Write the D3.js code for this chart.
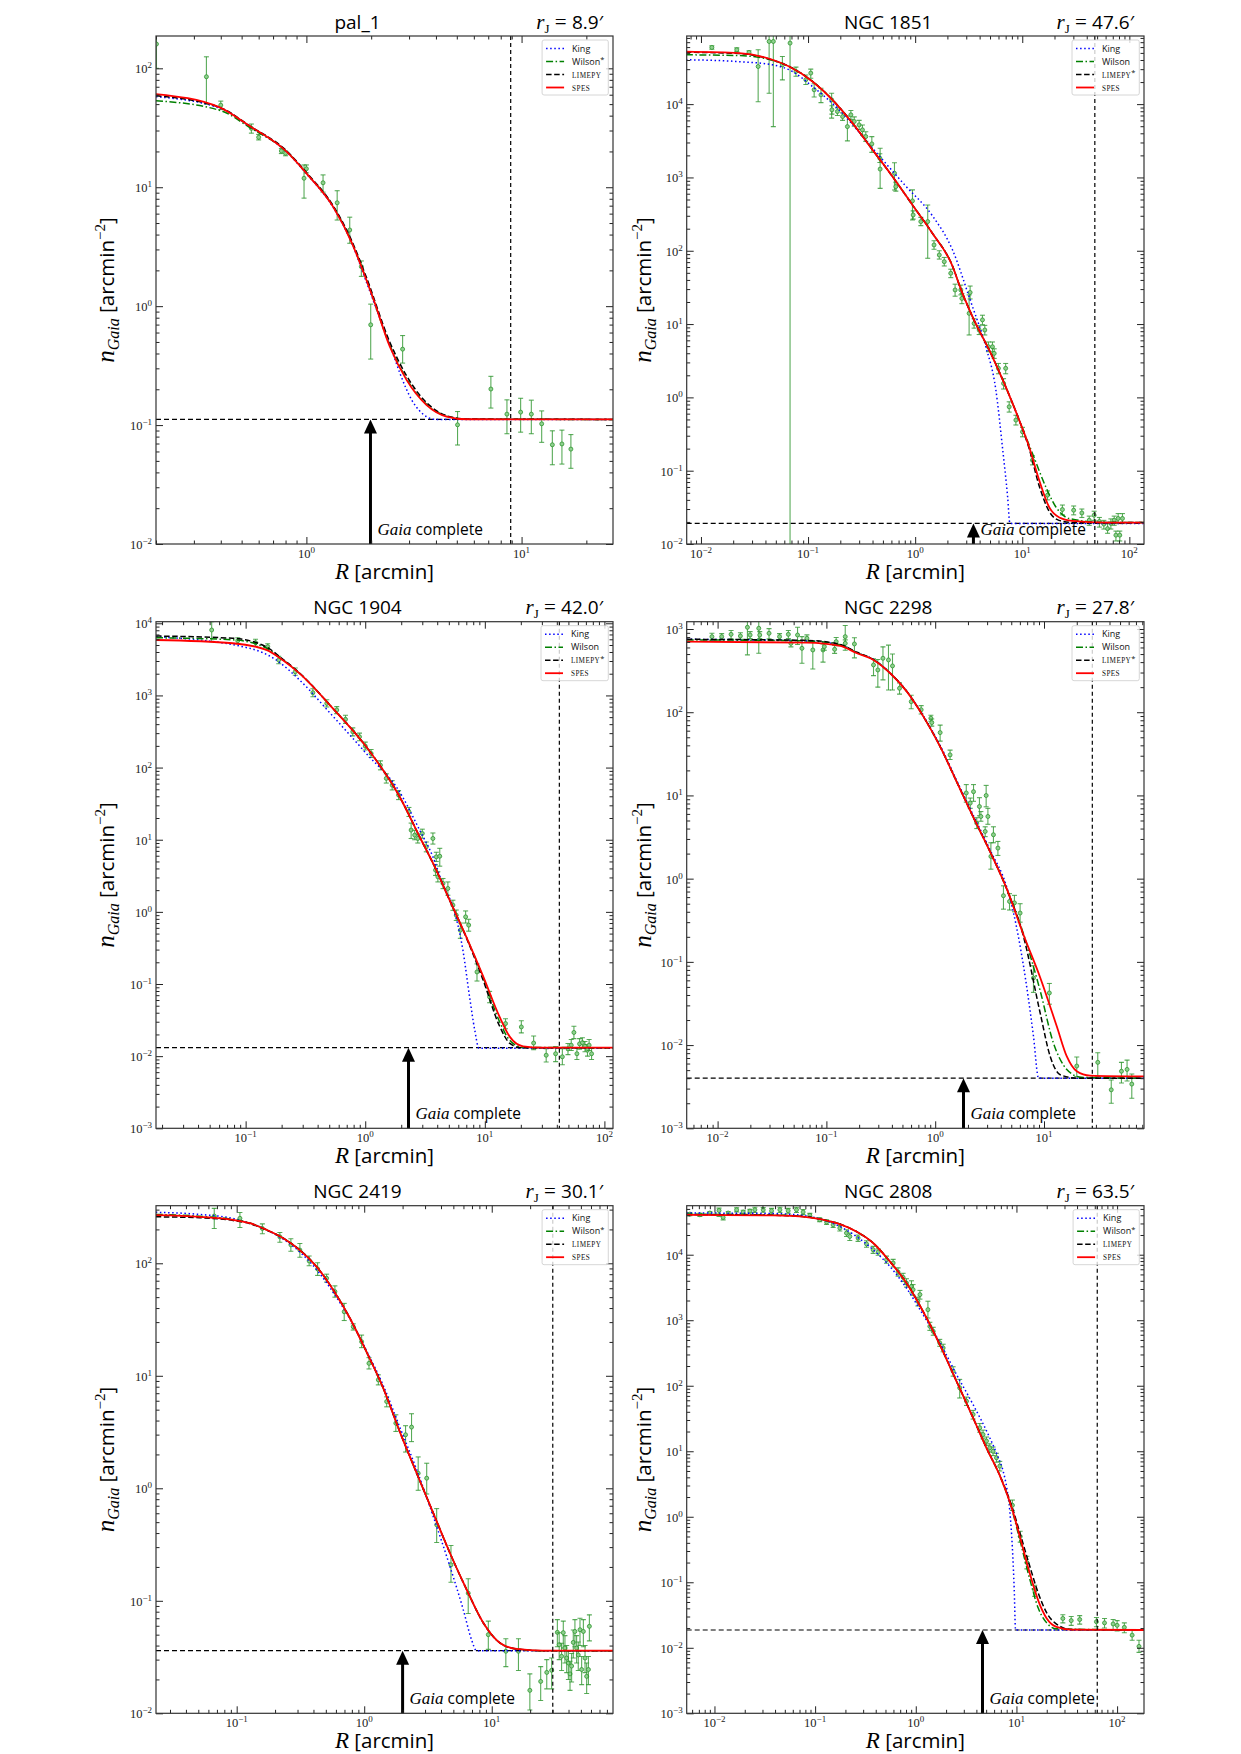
<!DOCTYPE html>
<html>
<head>
<meta charset="utf-8">
<script src="https://cdn.jsdelivr.net/npm/d3@7/dist/d3.min.js"></script>
<style>
  body { margin: 0; background: #fff; }
</style>
</head>
<body>
<svg id="fig" width="1241" height="1754"></svg>
<script>
/* ---------- Data ---------- */
// per cluster: name, Jacobi radius [arcmin], background level, Gaia completeness radius
let clusterNames = ["pal_1", "NGC 1851", "NGC 1904", "NGC 2298", "NGC 2419", "NGC 2808"];
let tidalRadii = ["8.9", "47.6", "42.0", "27.8", "30.1", "63.5"];
let backgrounds = [0.1116, 0.0191, 0.0131, 0.0040, 0.036, 0.0187];
let completeRadii = [1.985, 3.5, 2.3, 1.82, 2.0, 4.6];
let legendLabels = [
    ["King", "Wilson*", "LIMEPY", "SPES"],
    ["King", "Wilson", "LIMEPY*", "SPES"],
    ["King", "Wilson", "LIMEPY*", "SPES"],
    ["King", "Wilson", "LIMEPY*", "SPES"],
    ["King", "Wilson*", "LIMEPY", "SPES"],
    ["King", "Wilson*", "LIMEPY", "SPES"]
];
// axis ranges
let xDomains = [[0.2, 26.6], [0.00736, 137], [0.0178, 118], [0.0052, 83], [0.0233, 89.3], [0.0053, 185]];
let yDomains = [[0.01, 187], [0.01, 85000], [0.001, 10520], [0.001, 1224], [0.01, 325], [0.001, 56000]];

// model curves [R, n]
let pal1King = [[0.2,57.7],[0.4,46],[0.55,32],[0.81,19.8],[1.0,13],[1.33,6.8],[1.63,3.35],[1.9,1.6],[2.2,0.78],[2.5,0.42],[2.72,0.273],[3.09,0.162],[3.61,0.118],[3.97,0.1116],[26.6,0.1116]];
let pal1Wilson = [[0.2,53.5],[0.4,44],[0.55,31.5],[0.81,19.9],[1.0,13.1],[1.33,6.9],[1.63,3.4],[1.9,1.68],[2.44,0.47],[2.92,0.245],[3.61,0.15],[4.48,0.119],[5.55,0.112],[26.6,0.1116]];
let pal1Limepy = [[0.2,58.9],[0.4,46.5],[0.55,32.5],[0.81,20.2],[1.0,13.3],[1.33,7.0],[1.63,3.5],[1.9,1.75],[2.44,0.5],[2.92,0.26],[3.61,0.155],[4.48,0.12],[5.55,0.1125],[26.6,0.1116]];
let pal1Spes = [[0.2,60.8],[0.395,47],[0.545,32.7],[0.807,20],[1.0,13.1],[1.33,6.87],[1.63,3.38],[1.9,1.66],[2.04,1.17],[2.44,0.458],[2.92,0.24],[3.61,0.148],[4.48,0.118],[5.55,0.112],[26.6,0.1116]];

let n1851King = [[0.00723,40300],[0.0227,38000],[0.0465,34400],[0.0715,27900],[0.11,17400],[0.195,8360],[0.40,2500],[0.819,760],[1.45,300],[2.23,103],[3.19,23.6],[3.43,17.3],[4.57,4.9],[5.67,1.26],[6.53,0.21],[7.3,0.044],[7.67,0.0191],[137,0.0191]];
let n1851Wilson = [[0.00723,47100],[0.0227,46000],[0.0465,39500],[0.0666,32600],[0.11,20400],[0.169,11450],[0.26,5500],[0.40,2380],[0.614,1030],[0.943,422],[1.45,173],[2.23,62],[2.67,30],[3.43,12.6],[5.27,3.58],[7.0,1.4],[9.36,0.49],[12.45,0.172],[16.6,0.060],[20.6,0.032],[27.4,0.0223],[60,0.0196],[137,0.0196]];
let n1851Limepy = [[0.00723,51000],[0.0227,49000],[0.0465,40000],[0.0666,32600],[0.11,20400],[0.169,11450],[0.26,5500],[0.40,2380],[0.614,1030],[0.943,422],[1.45,173],[2.23,62],[2.67,30],[3.43,12.6],[5.27,3.58],[7.0,1.4],[9.36,0.49],[11.6,0.2],[14.4,0.062],[17.8,0.028],[22,0.021],[30,0.0196],[137,0.0196]];
let n1851Spes = [[0.00723,52000],[0.0227,49700],[0.0465,40300],[0.0666,32600],[0.11,20400],[0.169,11450],[0.26,5500],[0.40,2380],[0.614,1030],[0.943,422],[1.45,173],[2.23,62],[2.67,30],[3.43,12.6],[5.27,3.58],[7.0,1.4],[9.36,0.49],[11.6,0.211],[14.4,0.074],[17.8,0.032],[22.2,0.023],[29.3,0.0207],[60.4,0.0196],[137,0.0196]];

let n1904King = [[0.0178,6520],[0.108,4500],[0.18,3100],[0.282,1640],[0.536,516],[1.02,157],[1.94,46],[2.85,13.6],[3.68,5.8],[4.5,2.3],[5.41,1.17],[6.56,0.294],[7.46,0.066],[8.24,0.0229],[8.93,0.0129],[118,0.0129]];
let n1904Wilson = [[0.0178,6300],[0.078,5900],[0.149,4550],[0.204,3150],[0.282,2030],[0.536,662],[1.02,194],[1.94,39.4],[2.85,11.0],[3.93,3.79],[5.08,1.45],[7.0,0.45],[9.65,0.125],[13.3,0.03],[16.2,0.0165],[21,0.0132],[118,0.0131]];
let n1904Limepy = [[0.0178,6660],[0.078,6200],[0.149,4700],[0.204,3200],[0.282,2050],[0.536,662],[1.02,194],[1.94,39.4],[2.85,11.0],[3.93,3.79],[5.08,1.45],[7.0,0.44],[9.65,0.115],[13.3,0.026],[16.2,0.015],[20,0.0131],[118,0.0131]];
let n1904Spes = [[0.0178,5870],[0.078,5290],[0.149,4270],[0.204,3100],[0.282,2020],[0.536,662],[1.02,194],[1.94,39.4],[2.85,11.0],[3.93,3.79],[5.08,1.45],[7.0,0.45],[9.65,0.13],[13.3,0.035],[16.2,0.0185],[20.9,0.0137],[30,0.0131],[118,0.0131]];

let n2298King = [[0.0052,752],[0.066,720],[0.134,640],[0.191,520],[0.271,430],[0.386,296],[0.549,178],[0.78,90],[1.11,40],[1.58,15],[2.25,5.7],[3.2,2.2],[4.56,0.78],[5.25,0.386],[6.49,0.088],[8.0,0.0128],[8.92,0.004],[83,0.004]];
let n2298Wilson = [[0.0052,740],[0.066,720],[0.134,645],[0.191,520],[0.271,427],[0.386,294],[0.549,177],[0.78,88.5],[1.11,38.6],[1.58,14.5],[2.25,5.4],[3.2,2.1],[4.56,0.75],[6.49,0.215],[9.22,0.045],[12.2,0.0106],[16.2,0.0051],[22,0.0041],[83,0.004]];
let n2298Limepy = [[0.0052,752],[0.066,730],[0.134,650],[0.191,525],[0.271,428],[0.386,294],[0.549,177],[0.78,88.5],[1.11,38.6],[1.58,14.5],[2.25,5.4],[3.2,2.1],[4.56,0.74],[6.49,0.2],[9.22,0.0243],[11.4,0.0073],[14.1,0.0044],[20,0.004],[83,0.004]];
let n2298Spes = [[0.0052,705],[0.066,686],[0.134,625],[0.191,511],[0.271,425],[0.386,294],[0.549,177],[0.78,88.5],[1.11,38.6],[1.58,14.5],[2.25,5.4],[3.2,2.1],[4.56,0.75],[6.49,0.21],[9.22,0.065],[13.1,0.0168],[16.2,0.0073],[20.0,0.00485],[26.5,0.0043],[83,0.0042]];

let n2419King = [[0.0232,284],[0.0513,272],[0.0938,250],[0.172,198],[0.313,126],[0.423,88],[0.572,55],[0.773,32],[1.04,16.8],[1.41,8.2],[1.90,3.5],[2.58,1.46],[3.48,0.562],[4.7,0.202],[5.98,0.0834],[6.95,0.045],[7.6,0.036],[89.3,0.036]];
let n2419Wilson = [[0.0232,272],[0.0513,262],[0.0938,245],[0.127,228],[0.172,198],[0.232,167],[0.313,131],[0.423,93.3],[0.572,58],[0.773,32.5],[1.04,16.4],[1.41,7.76],[1.90,3.19],[2.58,1.36],[3.48,0.602],[4.7,0.266],[6.35,0.126],[8.6,0.0635],[11.6,0.0422],[15.7,0.0373],[25,0.036],[89.3,0.036]];
let n2419Limepy = [[0.0232,259],[0.0513,254],[0.0938,240],[0.127,225],[0.172,197],[0.232,167],[0.313,131],[0.423,93.3],[0.572,58],[0.773,32.5],[1.04,16.4],[1.41,7.76],[1.90,3.19],[2.58,1.36],[3.48,0.602],[4.7,0.266],[6.35,0.126],[8.6,0.0635],[11.6,0.0422],[15.7,0.0373],[25,0.036],[89.3,0.036]];
let n2419Spes = [[0.0232,268],[0.0513,259],[0.0938,243],[0.127,227],[0.172,198],[0.232,167],[0.313,131],[0.423,93.3],[0.572,58],[0.773,32.5],[1.04,16.4],[1.41,7.76],[1.90,3.19],[2.58,1.36],[3.48,0.602],[4.7,0.266],[6.35,0.126],[8.6,0.0635],[11.6,0.0422],[15.7,0.0373],[25,0.036],[89.3,0.036]];

let n2808King = [[0.00526,43300],[0.038,42500],[0.082,39000],[0.12,34000],[0.176,27000],[0.257,19000],[0.377,11900],[0.552,6640],[0.808,3100],[1.18,1220],[1.73,460],[2.54,148],[3.71,51.6],[5.43,16.1],[6.5,8.5],[7.37,5.0],[8.0,2.8],[8.6,1.2],[9.1,0.35],[9.5,0.08],[9.8,0.0187],[185,0.0187]];
let n2808Wilson = [[0.00526,41500],[0.038,40500],[0.082,37800],[0.12,34200],[0.176,29400],[0.257,22600],[0.377,15100],[0.552,7910],[0.808,3700],[1.18,1370],[1.73,425],[2.54,117],[3.71,32.4],[5.03,11.3],[7.0,3.9],[9.0,1.3],[11,0.4],[13.5,0.115],[16.5,0.04],[20,0.024],[25,0.0195],[185,0.0187]];
let n2808Limepy = [[0.00526,41000],[0.038,40000],[0.082,37700],[0.12,34200],[0.176,29400],[0.257,22600],[0.377,15100],[0.552,7910],[0.808,3700],[1.18,1370],[1.73,425],[2.54,117],[3.71,32.4],[5.03,11.3],[7.0,3.95],[9.0,1.45],[11,0.52],[13.5,0.18],[16.5,0.068],[20,0.034],[25,0.023],[35,0.019],[185,0.0187]];
let n2808Spes = [[0.00526,40700],[0.038,39800],[0.082,37600],[0.12,34200],[0.176,29400],[0.257,22600],[0.377,15100],[0.552,7910],[0.808,3700],[1.18,1370],[1.73,425],[2.54,117],[3.71,32.4],[5.03,11.3],[7.0,3.9],[9.0,1.35],[11,0.45],[13.5,0.14],[16.5,0.052],[20,0.028],[25,0.0208],[35,0.0189],[185,0.0187]];

// observed profiles [R, n, lower, upper]
let pal1Obs = [[0.201,160,100,260],[0.343,85,50,125],[0.40,49,45,53],[0.555,31.3,28.5,34],[0.60,26.3,25,27.8],[0.765,20.2,19.2,21.2],[0.80,19.3,18.4,20.2],[0.975,11.9,8.1,15.4],[1.0,14.3,13.2,15.4],[1.195,10.9,9.1,12.7],[1.39,7.4,5.3,9.35],[1.59,4.37,3.38,5.6],[1.8,2.15,1.78,2.4],[1.99,0.697,0.359,1.04],[2.80,0.435,0.332,0.566],[5.04,0.1005,0.068,0.13],[7.2,0.201,0.139,0.257],[8.55,0.1236,0.0846,0.163],[9.9,0.1285,0.0872,0.168],[11.1,0.1236,0.0846,0.162],[12.4,0.1025,0.0716,0.1316],[13.9,0.0683,0.0464,0.0895],[15.4,0.0694,0.047,0.0907],[16.95,0.0628,0.0433,0.0832]];

let n1851Obs = [[0.01264,59300,56000,62500],[0.0216,55100,52000,58500],[0.0281,50700,48000,53500],[0.0342,32600,10800,55100],[0.0433,71600,14100,100000],[0.0474,71600,4940,100000],[0.0576,34400,21400,44700],[0.0679,68000,0.001,100000],[0.0771,27900,24000,32000],[0.0953,21500,18500,25000],[0.106,26500,22500,30000],[0.114,15700,12500,19000],[0.132,13400,10500,16500],[0.166,11450,6450,14100],[0.167,8360,7300,9500],[0.188,7930,7000,8900],[0.21,6770,6000,7600],[0.233,4940,3150,6900],[0.251,7150,6200,8200],[0.27,5800,5000,6700],[0.30,5210,4500,6000],[0.322,4460,3800,5200],[0.346,3610,3100,4200],[0.394,2870,2200,3600],[0.468,1830,1600,2100],[0.471,1300,710,2500],[0.641,1140,675,1590],[0.66,750,650,860],[0.944,479,263,676],[0.958,308,270,350],[1.13,250,220,285],[1.31,250,79,420],[1.50,120,105,137],[1.68,87.6,77,100],[1.87,71,62,81],[2.15,49.3,43,56],[2.36,29.2,24,35],[2.67,29.2,25,34],[2.73,22.4,19,26],[3.19,14,7.1,25],[3.26,27,22,33],[3.55,10.2,8.8,11.8],[3.96,8.3,7.2,9.5],[4.25,11.4,9.8,13.2],[4.47,8.3,7.1,9.6],[4.83,4.9,4.2,5.7],[5.27,4.9,4.2,5.7],[5.47,3.98,3.4,4.6],[5.99,2.49,2.1,2.9],[6.69,1.55,1.3,1.8],[7.0,2.49,2.1,2.9],[7.55,0.744,0.63,0.87],[8.72,0.49,0.42,0.57],[10.05,0.339,0.29,0.39],[12.45,0.139,0.12,0.16],[17.2,0.0463,0.04,0.053],[23.7,0.0295,0.025,0.034],[30.2,0.0289,0.025,0.033],[36.0,0.0265,0.023,0.030],[42.2,0.0211,0.018,0.024],[46.9,0.0247,0.021,0.028],[52.5,0.0203,0.017,0.023],[57.8,0.0187,0.016,0.021],[62.6,0.0162,0.014,0.019],[67.2,0.0191,0.016,0.022],[72.2,0.0211,0.018,0.024],[74.9,0.0132,0.011,0.015],[78.6,0.0223,0.019,0.026],[81.4,0.0132,0.011,0.015],[86.2,0.0223,0.019,0.026]];

let n1904Obs = [[0.052,8070,5560,10500],[0.0859,5740,5200,6300],[0.121,5390,4800,6000],[0.153,4740,4300,5200],[0.189,3100,2750,3500],[0.26,2130,1900,2400],[0.365,1090,960,1240],[0.477,776,690,870],[0.578,628,560,700],[0.684,466,410,530],[0.787,314,275,355],[0.896,267,235,300],[1.0,199,175,225],[1.12,157,138,178],[1.34,108,93,124],[1.50,70.8,61,82],[1.68,57.2,49,66],[1.90,41.6,36,48],[2.32,24.4,21,28],[2.42,13.6,10.4,17],[2.59,11.6,10,13.5],[2.75,10.4,9,12],[3.0,12.2,10.5,14],[3.24,7.98,6.8,9.3],[3.68,10.4,8.7,12.4],[3.87,3.79,3.2,4.5],[3.93,5.79,5,6.7],[4.05,3.06,2.6,3.6],[4.2,5.9,4.3,7.6],[4.47,2.48,2.1,2.9],[4.91,2.11,1.7,2.6],[5.41,1.24,1.05,1.45],[5.77,0.90,0.76,1.06],[6.24,0.557,0.43,0.7],[6.91,0.853,0.7,1.03],[7.33,0.655,0.54,0.79],[8.6,0.147,0.11,0.19],[10.97,0.0662,0.055,0.079],[14.9,0.0283,0.024,0.033],[20.2,0.0254,0.021,0.031],[25.6,0.0152,0.0123,0.019],[32.6,0.0103,0.0083,0.0127],[39.1,0.0108,0.0084,0.0136],[44.5,0.0098,0.0076,0.0127],[49.6,0.0126,0.0105,0.015],[52.8,0.0142,0.012,0.017],[55.6,0.0213,0.0175,0.026],[58.9,0.0108,0.009,0.013],[62.0,0.0148,0.0125,0.0175],[65.5,0.0154,0.013,0.018],[68.8,0.0137,0.0115,0.016],[72.2,0.0121,0.010,0.0145],[74.5,0.0142,0.012,0.017],[78.1,0.0108,0.009,0.013]];

let n2298Obs = [[0.00887,809,730,890],[0.0109,809,740,880],[0.0133,863,760,960],[0.0162,824,750,900],[0.0188,1048,489,1340],[0.0199,847,770,930],[0.0239,1019,511,1280],[0.0244,847,770,930],[0.0297,888,760,1010],[0.0371,809,745,880],[0.0447,863,770,960],[0.0472,673,610,740],[0.0543,847,650,1050],[0.0596,586,387,809],[0.0662,773,700,850],[0.075,560,330,700],[0.0931,560,400,660],[0.0958,614,555,680],[0.119,570,510,635],[0.123,705,630,790],[0.149,809,555,1100],[0.149,673,610,740],[0.181,661,450,785],[0.271,370,275,440],[0.297,322,200,430],[0.331,445,245,610],[0.372,425,185,640],[0.405,360,185,500],[0.47,194,165,225],[0.602,134,110,160],[0.743,107,95,120],[0.913,84.7,78,92],[0.93,75,68,83],[1.11,56.9,45,70],[1.37,30.7,27,35],[1.93,10.7,8.3,13.5],[2.1,8.1,7,9.3],[2.25,11.1,8.5,13.5],[2.41,4.65,4,5.4],[2.55,7.36,5.7,9.4],[2.63,5.59,4.9,6.4],[2.88,3.69,3.2,4.2],[2.94,9.98,7.3,13.2],[3.05,5.59,4.5,7],[3.25,1.85,1.3,2.7],[3.43,3.37,2.7,4.2],[3.77,2.33,1.9,2.8],[4.24,0.624,0.43,0.82],[4.82,0.532,0.42,0.66],[5.35,0.512,0.4,0.63],[6.03,0.386,0.3,0.5],[8.0,0.064,0.043,0.09],[11.2,0.0423,0.031,0.055],[20.0,0.0056,0.0042,0.0072],[31.2,0.0062,0.0042,0.0081],[41.5,0.0029,0.002,0.0038],[51.5,0.00485,0.0035,0.0062],[58,0.0051,0.0037,0.0066],[64.1,0.0034,0.0023,0.0045]];

let n2419Obs = [[0.0667,263,204,308],[0.106,251,208,283],[0.159,204,183,224],[0.218,172,154,188],[0.266,146,128,165],[0.313,131,113,150],[0.37,105,95,116],[0.431,89,78,101],[0.507,73.6,68,80],[0.589,56,50,63],[0.697,37.1,31,44],[0.82,27.3,25.5,29],[0.954,20.1,17.8,23],[1.09,12.9,11.5,14.5],[1.29,9.2,8.3,10.2],[1.50,5.9,5.3,6.5],[1.77,3.79,3.2,4.5],[2.11,2.99,2.1,3.6],[2.35,3.5,2.6,4.6],[2.65,1.36,0.96,1.9],[3.09,1.23,0.89,1.67],[3.70,0.474,0.33,0.66],[4.79,0.209,0.146,0.31],[6.54,0.117,0.077,0.157],[9.4,0.05,0.037,0.066],[12.9,0.0356,0.026,0.046],[16.2,0.0356,0.024,0.046],[19.9,0.016,0.0107,0.0224],[24.2,0.0192,0.013,0.026],[27.0,0.0231,0.0165,0.030],[29.5,0.0241,0.0165,0.031],[32.7,0.0524,0.039,0.068],[33.8,0.0407,0.03,0.052],[35.3,0.0321,0.024,0.042],[36.4,0.0521,0.038,0.066],[37.5,0.038,0.028,0.049],[38.7,0.031,0.023,0.04],[39.9,0.028,0.02,0.036],[41.1,0.0224,0.016,0.029],[42.3,0.0263,0.019,0.034],[43.6,0.0427,0.031,0.055],[44.9,0.0534,0.039,0.068],[46.3,0.038,0.028,0.049],[47.7,0.033,0.024,0.043],[49.2,0.0553,0.04,0.07],[50.7,0.0245,0.018,0.032],[52.3,0.0534,0.039,0.068],[53.9,0.031,0.023,0.04],[55.5,0.0213,0.015,0.028],[57.3,0.0245,0.018,0.032],[58.3,0.0593,0.044,0.075]];

let n2808Obs = [[0.0057,41700,39500,44000],[0.00716,40700,38500,43000],[0.009,43300,41000,45700],[0.0111,47300,38400,51400],[0.0122,37100,34000,40000],[0.0137,43300,41000,45700],[0.0166,48500,45000,52000],[0.0193,44800,42000,47800],[0.0225,46300,43500,49200],[0.0252,48500,44000,53000],[0.0305,48500,44500,52500],[0.0369,46900,43000,51000],[0.0447,48500,44000,53000],[0.054,46900,43000,51000],[0.0653,48500,44000,53000],[0.076,44800,41000,49000],[0.0886,39800,37000,42800],[0.111,34200,32000,36500],[0.13,31500,29000,34000],[0.151,28600,26000,31200],[0.176,25500,23000,28000],[0.205,21400,19000,24000],[0.221,19000,16500,21500],[0.267,18000,16000,20000],[0.324,14600,13000,16300],[0.377,11900,10500,13400],[0.423,11000,9800,12300],[0.512,8400,7400,9500],[0.596,7470,6500,8500],[0.667,5440,4700,6300],[0.748,4510,3900,5200],[0.808,3700,3200,4300],[0.906,3290,2600,4000],[0.94,2930,2400,3500],[1.05,1940,1650,2250],[1.1,2460,2100,2850],[1.32,1450,1080,1950],[1.38,807,700,930],[1.49,677,590,780],[1.73,451,400,510],[1.87,378,330,430],[2.35,166,140,195],[2.73,92.9,65,125],[3.19,58.1,50,67],[3.71,36.4,31,42],[4.32,22.8,19.5,26.5],[4.66,18,15.5,21],[5.04,14.3,12.3,16.5],[5.43,11.3,9.7,13],[5.86,10,8.6,11.6],[6.33,7.96,6.8,9.3],[6.83,5.93,5,7],[9.12,1.5,1.25,1.8],[10.9,0.5,0.41,0.6],[12.7,0.2,0.16,0.25],[15.2,0.075,0.061,0.09],[28.9,0.028,0.024,0.032],[35,0.026,0.022,0.03],[42.5,0.027,0.023,0.031],[62.3,0.025,0.021,0.029],[75,0.024,0.02,0.028],[91.3,0.0231,0.019,0.027],[100,0.022,0.018,0.026],[118,0.0205,0.017,0.024],[141,0.0156,0.013,0.019],[165,0.0105,0.0085,0.013]];

let modelCurves = [
    [pal1King, pal1Wilson, pal1Limepy, pal1Spes],
    [n1851King, n1851Wilson, n1851Limepy, n1851Spes],
    [n1904King, n1904Wilson, n1904Limepy, n1904Spes],
    [n2298King, n2298Wilson, n2298Limepy, n2298Spes],
    [n2419King, n2419Wilson, n2419Limepy, n2419Spes],
    [n2808King, n2808Wilson, n2808Limepy, n2808Spes]
];
let observed = [pal1Obs, n1851Obs, n1904Obs, n2298Obs, n2419Obs, n2808Obs];

/* ---------- Layout & style ---------- */
let colLeft = [156, 686.7];
let colRight = [613, 1144];
let rowTop = [36, 621.7, 1205.7];
let rowBottom = [544, 1128.3, 1713.3];
let ylabelOffset = [42, 36];

let SANS = "'Open Sans', 'DejaVu Sans', sans-serif";
let SERIF = "'Liberation Serif', 'DejaVu Serif', serif";
let DATA_GREEN = "#2f962f";

let curveStyles = [
    { stroke: "#0000ff", dash: "1.5,2.6", width: 1.5 },
    { stroke: "#008000", dash: "7,2.5,1.5,2.5", width: 1.5 },
    { stroke: "#000000", dash: "5.5,2.6", width: 1.5 },
    { stroke: "#ff0000", dash: null, width: 1.8 }
];

let svg = d3.select("#fig");

function logTicks(domain) {
    let lo = Math.floor(Math.log10(domain[0]));
    let hi = Math.ceil(Math.log10(domain[1]));
    let major = [], minor = [];
    for (let p = lo; p <= hi; p++) {
        for (let k = 1; k < 10; k++) {
            let v = +(k * Math.pow(10, p)).toPrecision(6);
            if (v < domain[0] * 0.9999 || v > domain[1] * 1.0001) continue;
            (k === 1 ? major : minor).push(v);
        }
    }
    return [major, minor];
}

function powLabel(sel, v) {
    let p = Math.round(Math.log10(v));
    sel.append("tspan").text("10");
    sel.append("tspan").attr("dy", -5).attr("font-size", 9)
        .text(p < 0 ? "\u2212" + (-p) : String(p));
}

function drawPanel(i) {
    let col = i % 2, row = Math.floor(i / 2);
    let x0 = colLeft[col], x1 = colRight[col];
    let y0 = rowTop[row], y1 = rowBottom[row];

    let x = d3.scaleLog().domain(xDomains[i]).range([x0, x1]);
    let y = d3.scaleLog().domain(yDomains[i]).range([y1, y0]);

    let g = svg.append("g").attr("class", "panel");

    g.append("defs").append("clipPath")
        .attr("id", "clip" + i)
        .append("rect")
        .attr("x", x0).attr("y", y0)
        .attr("width", x1 - x0).attr("height", y1 - y0);

    let plot = g.append("g").attr("clip-path", `url(#clip${i})`);

    /* Observed points with error bars */
    let pts = plot.append("g").attr("class", "obs");
    observed[i].forEach(d => {
        let px = x(d[0]);
        let pe = pts.append("g").attr("stroke", DATA_GREEN).attr("stroke-opacity", 0.8);
        pe.append("line").attr("x1", px).attr("x2", px)
            .attr("y1", y(d[2])).attr("y2", y(d[3])).attr("stroke-width", 1.1);
        [d[2], d[3]].forEach(v => {
            pe.append("line").attr("x1", px - 2.5).attr("x2", px + 2.5)
                .attr("y1", y(v)).attr("y2", y(v)).attr("stroke-width", 1.1);
        });
        pe.append("circle").attr("cx", px).attr("cy", y(d[1])).attr("r", 2)
            .attr("fill", "#8fd08f").attr("stroke-width", 1);
    });

    /* Background level */
    plot.append("line")
        .attr("x1", x0).attr("x2", x1)
        .attr("y1", y(backgrounds[i])).attr("y2", y(backgrounds[i]))
        .attr("stroke", "black").attr("stroke-width", 1.2)
        .attr("stroke-dasharray", "5,3");

    /* Model curves */
    let line = d3.line()
        .x(d => x(d[0]))
        .y(d => y(d[1]))
        .curve(d3.curveMonotoneX);

    modelCurves[i].forEach((c, k) => {
        let st = curveStyles[k];
        plot.append("path")
            .datum(c)
            .attr("d", line)
            .attr("fill", "none")
            .attr("stroke", st.stroke)
            .attr("stroke-width", st.width)
            .attr("stroke-dasharray", st.dash);
    });

    /* Jacobi radius */
    let rj = +tidalRadii[i];
    plot.append("line")
        .attr("x1", x(rj)).attr("x2", x(rj))
        .attr("y1", y0).attr("y2", y1)
        .attr("stroke", "black").attr("stroke-width", 1.2)
        .attr("stroke-dasharray", "4,3");

    /* Gaia completeness arrow */
    let ax = x(completeRadii[i]);
    let ay = y(backgrounds[i]);
    g.append("line")
        .attr("x1", ax).attr("x2", ax)
        .attr("y1", y1).attr("y2", ay + 10)
        .attr("stroke", "black").attr("stroke-width", 3);
    g.append("path")
        .attr("d", `M${ax},${ay} L${ax - 6.5},${ay + 14} L${ax + 6.5},${ay + 14} Z`)
        .attr("fill", "black");
    let gc = g.append("text")
        .attr("x", ax + 7).attr("y", y1 - 9)
        .attr("fill", "black");
    gc.append("tspan").attr("font-family", SERIF).attr("font-style", "italic")
        .attr("font-size", 17).text("Gaia");
    gc.append("tspan").attr("font-family", SANS).attr("font-size", 15.5).text(" complete");

    /* Axes: inward ticks on all four sides */
    let [major, minor] = logTicks(xDomains[i]);
    let [ymajor, yminor] = logTicks(yDomains[i]);

    let axes = [
        [d3.axisBottom(x), `translate(0,${y1})`, major, minor],
        [d3.axisTop(x), `translate(0,${y0})`, major, minor],
        [d3.axisLeft(y), `translate(${x0},0)`, ymajor, yminor],
        [d3.axisRight(y), `translate(${x1},0)`, ymajor, yminor]
    ];
    axes.forEach(([ax_, tr, maj, mnr]) => {
        g.append("g").attr("transform", tr).attr("color", "#222")
            .call(ax_.tickValues(maj).tickSize(-7).tickFormat(""))
            .call(s => s.select(".domain").remove());
        g.append("g").attr("transform", tr).attr("color", "#222")
            .call(ax_.tickValues(mnr).tickSize(-3.5).tickFormat(""))
            .call(s => s.select(".domain").remove());
    });

    g.append("rect")
        .attr("x", x0).attr("y", y0)
        .attr("width", x1 - x0).attr("height", y1 - y0)
        .attr("fill", "none").attr("stroke", "#333").attr("stroke-width", 1.2);

    /* Tick labels */
    major.forEach(v => {
        let t = g.append("text")
            .attr("x", x(v)).attr("y", y1 + 13.5)
            .attr("text-anchor", "middle")
            .attr("font-family", SERIF).attr("font-size", 12.5).attr("fill", "#222");
        powLabel(t, v);
    });
    ymajor.forEach(v => {
        let t = g.append("text")
            .attr("x", x0 - 4).attr("y", y(v) + 5)
            .attr("text-anchor", "end")
            .attr("font-family", SERIF).attr("font-size", 12.5).attr("fill", "#222");
        powLabel(t, v);
    });

    /* Axis labels */
    let xl = g.append("text")
        .attr("x", (x0 + x1) / 2).attr("y", y1 + 35)
        .attr("text-anchor", "middle").attr("fill", "black");
    xl.append("tspan").attr("font-family", SERIF).attr("font-style", "italic")
        .attr("font-size", 23).text("R");
    xl.append("tspan").attr("font-family", SANS).attr("font-size", 20.5).text(" [arcmin]");

    let yl = g.append("text")
        .attr("transform", `translate(${x0 - ylabelOffset[col]},${(y0 + y1) / 2}) rotate(-90)`)
        .attr("text-anchor", "middle").attr("fill", "black");
    yl.append("tspan").attr("font-family", SERIF).attr("font-style", "italic")
        .attr("font-size", 25).text("n");
    yl.append("tspan").attr("font-family", SERIF).attr("font-style", "italic")
        .attr("font-size", 16).attr("dy", 5).text("Gaia");
    yl.append("tspan").attr("font-family", SANS).attr("font-size", 20.5)
        .attr("dy", -5).text(" [arcmin");
    yl.append("tspan").attr("font-family", SERIF).attr("font-size", 15)
        .attr("dy", -9).text("\u22122");
    yl.append("tspan").attr("font-family", SANS).attr("font-size", 20.5)
        .attr("dy", 9).text("]");

    /* Title and Jacobi radius label */
    g.append("text")
        .attr("x", x0 + 201.5).attr("y", y0 - 7.5)
        .attr("text-anchor", "middle")
        .attr("font-family", SANS).attr("font-size", 19).attr("fill", "black")
        .text(clusterNames[i]);

    let rl = g.append("text")
        .attr("x", x1 - 10).attr("y", y0 - 7.5)
        .attr("text-anchor", "end").attr("fill", "black");
    rl.append("tspan").attr("font-family", SERIF).attr("font-style", "italic")
        .attr("font-size", 21).text("r");
    rl.append("tspan").attr("font-family", SERIF).attr("font-size", 13)
        .attr("dy", 4).text("J");
    rl.append("tspan").attr("font-family", SERIF).attr("font-size", 21)
        .attr("dy", -4).text(" = ");
    rl.append("tspan").attr("font-family", SANS).attr("font-size", 19)
        .text(tidalRadii[i] + "\u2032");

    /* Legend */
    let lg = g.append("g");
    let box = lg.append("rect")
        .attr("fill", "white").attr("fill-opacity", 0.8)
        .attr("stroke", "#cccccc").attr("stroke-width", 0.8)
        .attr("rx", 2);
    let maxW = 0;
    legendLabels[i].forEach((lab, k) => {
        let st = curveStyles[k];
        let ly = 8.5 + 13 * k;
        lg.append("line")
            .attr("x1", 4).attr("x2", 22)
            .attr("y1", ly).attr("y2", ly)
            .attr("stroke", st.stroke).attr("stroke-width", st.width)
            .attr("stroke-dasharray", st.dash);
        let t = lg.append("text").attr("x", 30).attr("y", ly + 3.2).attr("fill", "#111");
        let star = lab.endsWith("*");
        let base = star ? lab.slice(0, -1) : lab;
        if (base === "LIMEPY" || base === "SPES") {
            t.append("tspan").attr("font-family", SERIF).attr("font-size", 7.2)
                .attr("letter-spacing", 0.4).text(base);
        } else {
            t.append("tspan").attr("font-family", SANS).attr("font-size", 9).text(base);
        }
        if (star) {
            t.append("tspan").attr("font-family", SANS).attr("font-size", 7.5)
                .attr("dy", -2.5).text("*");
        }
        maxW = Math.max(maxW, t.node().getComputedTextLength());
    });
    let bw = 30 + maxW + 4;
    box.attr("x", 0).attr("y", 0).attr("width", bw).attr("height", 55);
    lg.attr("transform", `translate(${x1 - 4.7 - bw},${y0 + 4})`);
}

for (let i = 0; i < clusterNames.length; i++) {
    drawPanel(i);
}
</script>
</body>
</html>
